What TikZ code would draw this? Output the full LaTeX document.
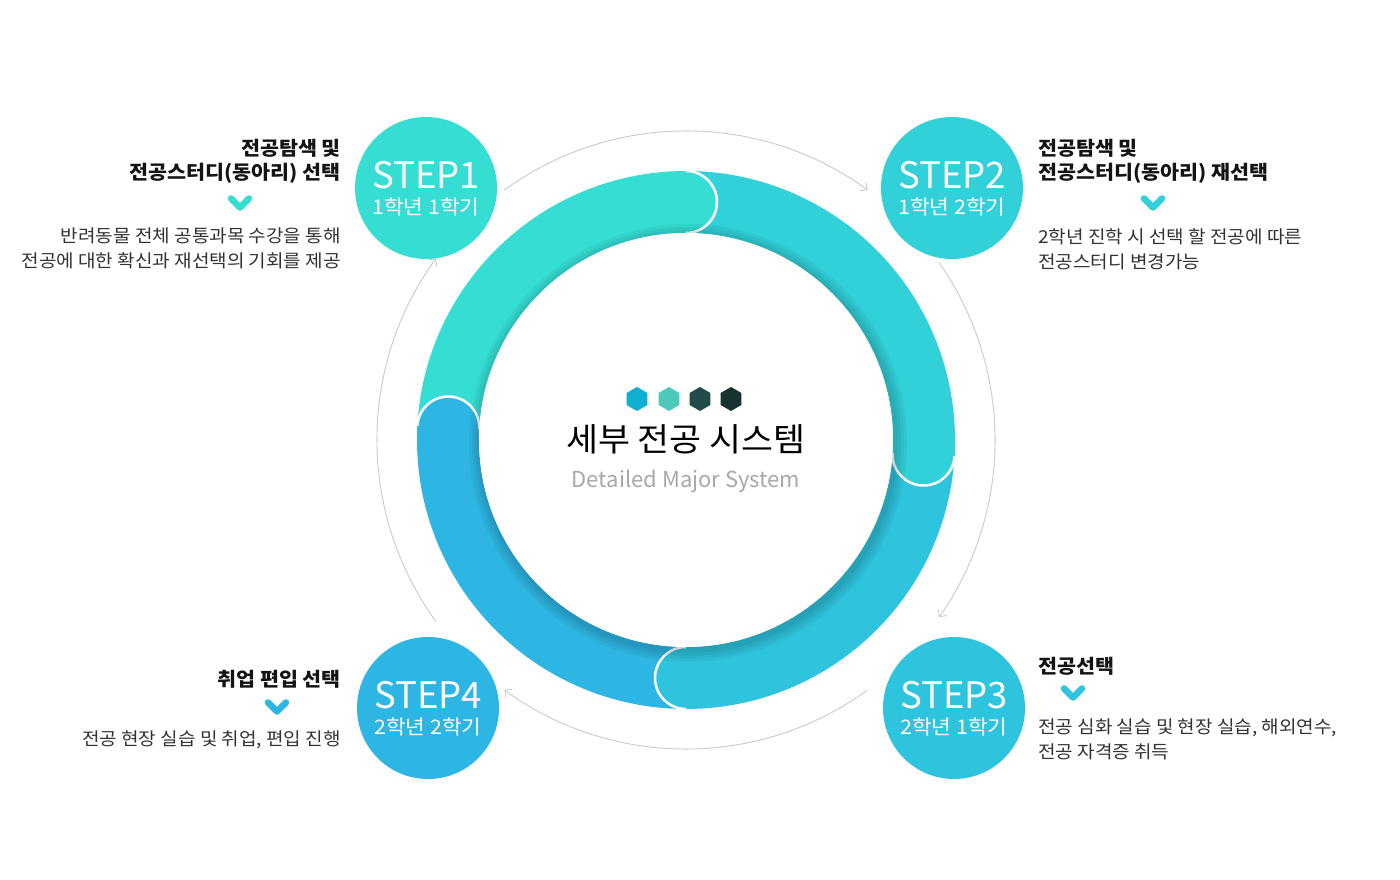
\documentclass[tikz,border=0pt]{standalone}
\usepackage{fontspec}
\setmainfont{Noto Sans CJK KR}
\newfontfamily\kofont[FakeStretch=1.07]{Noto Sans CJK KR}
\usetikzlibrary{arrows.meta,calc,shapes.geometric}

\definecolor{stepa}{HTML}{35DDD3}
\definecolor{stepb}{HTML}{32D0D9}
\definecolor{stepc}{HTML}{2FC4DE}
\definecolor{stepd}{HTML}{2DB5E3}
\definecolor{hexa}{HTML}{0FAFD1}
\definecolor{hexb}{HTML}{4DC9BB}
\definecolor{hexc}{HTML}{224B4A}
\definecolor{hexd}{HTML}{173230}
\definecolor{bodygray}{HTML}{333333}
\definecolor{subgray}{HTML}{A8A8A8}
\definecolor{arcgray}{HTML}{C6CCCC}

\begin{document}
\begin{tikzpicture}[x=1pt,y=1pt,
    stepdisc/.style={circle, minimum size=142pt, inner sep=0pt},
    headtext/.style={font=\kofont\bfseries\fontsize{19.3}{24}\selectfont, text=black!92, inner sep=0pt},
    bodytext/.style={font=\kofont\fontsize{17.8}{25}\selectfont, text=bodygray, inner sep=0pt},
    chevron/.style={line width=6.5pt, line cap=round, line join=round},
    cycarrow/.style={draw=arcgray, line width=0.9pt, -{Straight Barb[length=5pt,width=10pt]}},
    capline/.style={white, line width=2.5pt}]

    \fill[white] (0,0) rectangle (1400,880);
    \useasboundingbox (0,0) rectangle (1400,880);
    \coordinate (c) at (686,440);

    % ring
    \foreach \a/\b/\col in {177/90/stepa, 90/-3.5/stepb, -3.5/-90/stepc, -90/-183/stepd}
        \draw[\col, line width=62pt] ($(c)+(\a:238)$) arc[start angle=\a, end angle=\b, radius=238pt];
    \foreach \b/\col in {90/stepa, -3.5/stepb, -90/stepc, -183/stepd}{
        \draw[\col, line width=62pt] ($(c)+(\b+2:238)$) arc[start angle=\b+2, end angle=\b-0.5, radius=238pt];
        \fill[\col] ($(c)+(\b:207)$) arc[start angle=\b+180, end angle=\b+360, radius=31pt] -- cycle;
        \draw[capline] ($(c)+(\b:207)$) arc[start angle=\b+180, end angle=\b+360, radius=31pt];
    }
    \foreach \r in {219,216,213,210}
        \fill[black, opacity=0.045] ($(c)+(2,-3)$) circle[radius=\r pt];
    \node[circle, fill=white, minimum size=414pt, inner sep=0pt] (core) at (c) {};

    \foreach \x/\col [count=\i] in {637/hexa, 669/hexb, 700/hexc, 731/hexd}
        \node[regular polygon, regular polygon sides=6, shape border rotate=30,
              minimum size=24pt, inner sep=0pt, fill=\col] (hex\i) at (\x,481) {};
    \node (title) at (686,441) {\kofont\fontsize{32.5}{36}\selectfont 세부 전공 시스템};
    \node[text=subgray] (subtitle) at (686,399) {\fontsize{22}{26}\selectfont Detailed Major System};

    % cycle arrows
    \foreach \a/\b [count=\i] in {126/54, 35/-35, -54/-126, 216/144}{
        \coordinate (arc\i) at ($(c)+(\a:309)$);
        \draw[cycarrow] (arc\i) arc[start angle=\a, end angle=\b, radius=309pt];
    }

    % steps
    \foreach \x/\y/\col/\sem [count=\n] in {426/692/stepa/1학년 1학기, 952/692/stepb/1학년 2학기,
                                           954/172/stepc/2학년 1학기, 428/172/stepd/2학년 2학기}{
        \node[stepdisc, fill=\col] (step\n) at (\x,\y) {};
        \node[text=white] (step\n t) at ([yshift=12.5]step\n.center) {\fontsize{36.5}{40}\selectfont STEP\n};
        \node[text=white] (step\n s) at ([yshift=-19]step\n.center) {\kofont\fontsize{20}{24}\selectfont \sem};
    }

    \node[headtext, anchor=east, align=right] (head1) at (341,719) {전공탐색 및\\전공스터디(동아리) 선택};
    \node[bodytext, anchor=east, align=right] (body1) at (341,632) {반려동물 전체 공통과목 수강을 통해\\전공에 대한 확신과 재선택의 기회를 제공};
    \node[headtext, anchor=west, align=left] (head2) at (1038,719) {전공탐색 및\\전공스터디(동아리) 재선택};
    \node[bodytext, anchor=west, align=left] (body2) at (1038,631) {2학년 진학 시 선택 할 전공에 따른\\전공스터디 변경가능};
    \node[headtext, anchor=west] (head3) at (1038,214) {전공선택};
    \node[bodytext, anchor=west, align=left] (body3) at (1038,141) {전공 심화 실습 및 현장 실습, 해외연수,\\전공 자격증 취득};
    \node[headtext, anchor=east] (head4) at (341,201) {취업 편입 선택};
    \node[bodytext, anchor=east] (body4) at (341,140) {전공 현장 실습 및 취업, 편입 진행};

    \foreach \x/\y/\col in {240/677/stepa, 1153/677/stepb, 1073/187/stepc, 277/173/stepd}
        \draw[chevron, \col] (\x-9,\y+4.5) -- (\x,\y-4.5) -- (\x+9,\y+4.5);
\end{tikzpicture}
\end{document}
